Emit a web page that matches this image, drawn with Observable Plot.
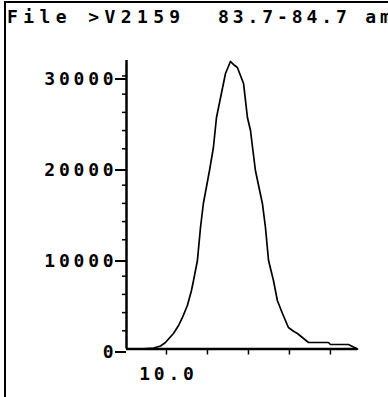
<!DOCTYPE html>
<html>
<head>
<meta charset="utf-8">
<script src="https://cdn.jsdelivr.net/npm/d3@7"></script>
<script src="https://cdn.jsdelivr.net/npm/@observablehq/plot@0.6"></script>
<style>
  html, body { margin: 0; padding: 0; background: #fff; }
  #wrap { position: relative; width: 388px; height: 397px; overflow: hidden; }
  #frame { position: absolute; left: 4px; top: 1px; width: 390px; height: 400px;
           border-top: 2px solid #000; border-left: 2px solid #000; box-sizing: border-box; }
  .title { position: absolute; top: 6px; font-family: "DejaVu Sans Mono", monospace;
           font-size: 18px; color: #000; white-space: pre; font-weight: bold; }
  #chart { position: absolute; left: 0; top: 0; }
  #chart svg text { letter-spacing: 3.8px; font-weight: bold; }
</style>
</head>
<body>
<div id="wrap">
  <div id="frame"></div>
  <div class="title" style="left:7px; letter-spacing:5.4px">File &gt;V2159</div>
  <div class="title" style="left:218px; letter-spacing:3.9px">83.7-84.7 am</div>
  <div id="chart"></div>
</div>
<script>
// retention time (min) and abundance
const times = [9.815, 9.873, 9.937, 9.971, 9.995, 10.034, 10.059, 10.078, 10.102, 10.122, 10.132,
  10.151, 10.166, 10.180, 10.210, 10.229, 10.244, 10.268, 10.288, 10.312, 10.330, 10.346, 10.376,
  10.395, 10.410, 10.420, 10.434, 10.468, 10.483, 10.498, 10.522, 10.541, 10.566, 10.595, 10.620,
  10.639, 10.693, 10.790, 10.800, 10.888, 10.932];
const abundance = [0, 0, 110, 330, 714, 1703, 2582, 3462, 4780, 6429, 7528,
  9726, 13352, 15990, 19614, 22142, 25439, 28077, 30275, 31594, 31200, 30935, 29177,
  25439, 24010, 22142, 19614, 15990, 13352, 9726, 7528, 5330, 3901, 2363, 1950,
  1703, 714, 714, 494, 494, 0];
const yTicks = [0, 10000, 20000, 30000];
const yMinorTicks = [2000, 4000, 6000, 8000, 12000, 14000, 16000, 18000, 22000, 24000, 26000, 28000, 30000];
const xTicks = [10.0, 10.2, 10.4, 10.6, 10.8];
const xLabels = [10.0];
const xDomain = [9.805, 10.932];
const yDomain = [0, 31700];

const data = times.map((t, i) => ({t, a: abundance[i]}));

const chart = Plot.plot({
  width: 388,
  height: 397,
  marginLeft: 126,
  marginRight: 31,
  marginTop: 60,
  marginBottom: 48.5,
  style: {fontFamily: "DejaVu Sans Mono, monospace", fontSize: "18px", color: "#000", background: "transparent"},
  x: {domain: xDomain, label: null},
  y: {domain: yDomain, label: null},
  marks: [
    Plot.axisY({ticks: yMinorTicks, tickSize: 4, text: null, strokeWidth: 1.5, label: null}),
    Plot.axisY({ticks: yTicks, tickSize: 11, tickPadding: -2, tickFormat: d => String(d), strokeWidth: 2, dy: 3, label: null}),
    Plot.axisX({ticks: xTicks, tickSize: 6, text: null, strokeWidth: 1.5, label: null}),
    Plot.axisX({ticks: xLabels, tickSize: 0, tickPadding: 18.5, tickFormat: d => d.toFixed(1), dx: 2, label: null}),
    Plot.ruleX([xDomain[0]], {strokeWidth: 2.5}),
    Plot.ruleY([0], {strokeWidth: 2.5}),
    Plot.line(data, {x: "t", y: "a", stroke: "#000", strokeWidth: 1.7})
  ]
});
document.getElementById("chart").appendChild(chart);
</script>
</body>
</html>
